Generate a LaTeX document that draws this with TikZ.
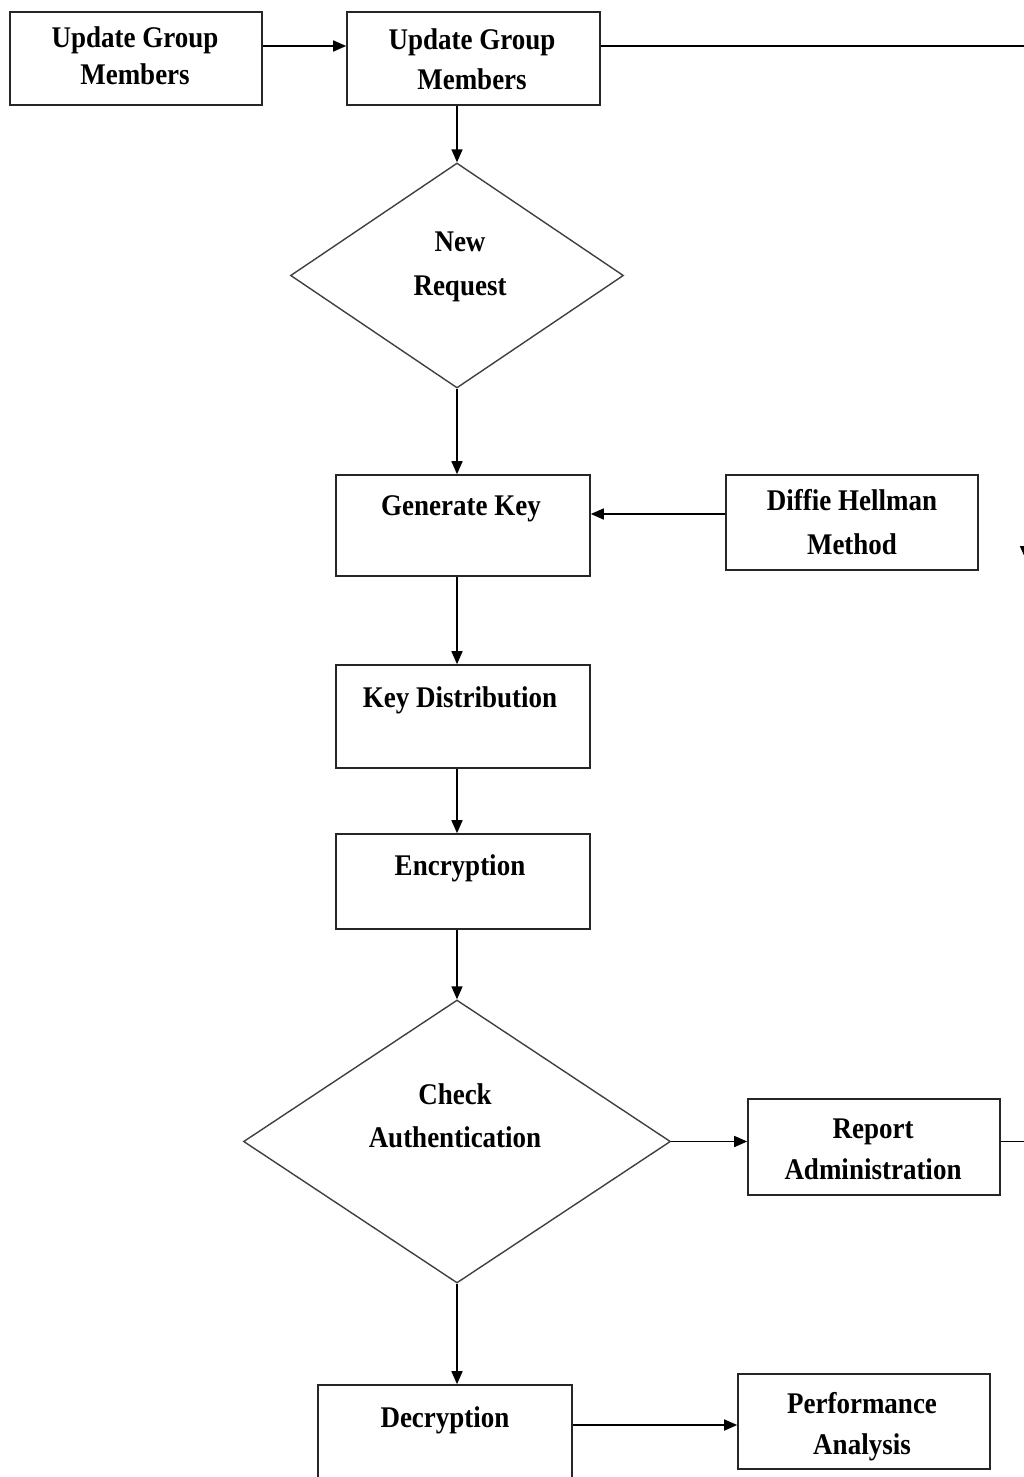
\documentclass[tikz,border=0pt]{standalone}
\usepackage{fontspec}
\setmainfont{Liberation Serif}[FakeStretch=0.9]
\usetikzlibrary{arrows.meta,shapes.geometric}
\begin{document}
\begin{tikzpicture}[x=1pt,y=-1pt,
  box/.style={draw=black!85, line width=1.6pt, rectangle, inner sep=0pt},
  decision/.style={draw=black!75, line width=1.4pt, diamond, inner sep=0pt},
  lbl/.style={anchor=base, inner sep=0pt, font=\fontsize{30}{36}\selectfont\bfseries},
  arr/.style={line width=1.6pt, -{Triangle[length=13pt,width=11pt]}},
  link/.style={line width=1.6pt}]

% canvas
\path[fill=white, use as bounding box] (0,0) rectangle (1023,1477);

% boxes
\node[box, minimum width=252pt, minimum height=93pt]  (A)    at (136,58.5)   {};
\node[box, minimum width=253pt, minimum height=93pt]  (B)    at (473.5,58.5) {};
\node[box, minimum width=254pt, minimum height=101pt] (gen)  at (463,525.5)  {};
\node[box, minimum width=252pt, minimum height=95pt]  (dh)   at (852,522.5)  {};
\node[box, minimum width=254pt, minimum height=103pt] (kd)   at (463,716.5)  {};
\node[box, minimum width=254pt, minimum height=95pt]  (enc)  at (463,881.5)  {};
\node[box, minimum width=252pt, minimum height=96pt]  (rep)  at (874,1147)   {};
\node[box, minimum width=254pt, minimum height=115pt] (decr) at (445,1442.5) {};
\node[box, minimum width=252pt, minimum height=95pt]  (perf) at (864,1421.5) {};

% decisions
\node[decision, minimum width=333pt, minimum height=225pt] (d1) at (457,275.5)  {};
\node[decision, minimum width=427pt, minimum height=283pt] (d2) at (457,1141.5) {};

% labels
\node[lbl] (A1) at (135,48) {Update Group};
\node[lbl] (A2) at (135,85) {Members};
\node[lbl] (B1) at (472,50) {Update Group};
\node[lbl] (B2) at (472,90) {Members};
\node[lbl] (d1a) at (460,251) {New};
\node[lbl] (d1b) at (460,295) {Request};
\node[lbl] (gent) at (461,515) {Generate Key};
\node[lbl] (dh1) at (852,510) {Diffie Hellman};
\node[lbl] (dh2) at (852,554) {Method};
\node[lbl] (kdt) at (460,707) {Key Distribution};
\node[lbl] (enct) at (460,875) {Encryption};
\node[lbl] (d2a) at (455,1104) {Check};
\node[lbl] (d2b) at (455,1147) {Authentication};
\node[lbl] (rep1) at (873,1138) {Report};
\node[lbl] (rep2) at (873,1179) {Administration};
\node[lbl] (dect) at (445,1427) {Decryption};
\node[lbl] (perf1) at (862,1413) {Performance};
\node[lbl] (perf2) at (862,1454) {Analysis};

% free ends running off the right edge
\coordinate (spine) at (457,0);
\coordinate (topturn) at (1025.5,46);
\coordinate (sidein) at (1025.5,559);
\coordinate (repout) at (1030,1141);

% connectors
\draw[arr] ([yshift=12.5pt]A.east) -- ([yshift=12.5pt]A.east -| B.west);
\draw[arr] (B.east |- topturn) -- (topturn) -- (sidein);
\draw[arr] (B.south -| spine) -- (d1.north);
\draw[arr] (d1.south) -- (gen.north -| spine);
\draw[arr] ([yshift=8.5pt]dh.west) -- ([yshift=8.5pt]dh.west -| gen.east);
\draw[arr] (gen.south -| spine) -- (kd.north -| spine);
\draw[arr] (kd.south -| spine) -- (enc.north -| spine);
\draw[arr] (enc.south -| spine) -- (d2.north);
\draw[arr] (d2.east) -- (d2.east -| rep.west);
\draw[link] (rep.east |- d2.east) -- (repout |- d2.east);
\draw[arr] (d2.south) -- (decr.north -| spine);
\draw[arr] ([yshift=-3.5pt]perf.west -| decr.east) -- ([yshift=-3.5pt]perf.west);
\end{tikzpicture}
\end{document}
